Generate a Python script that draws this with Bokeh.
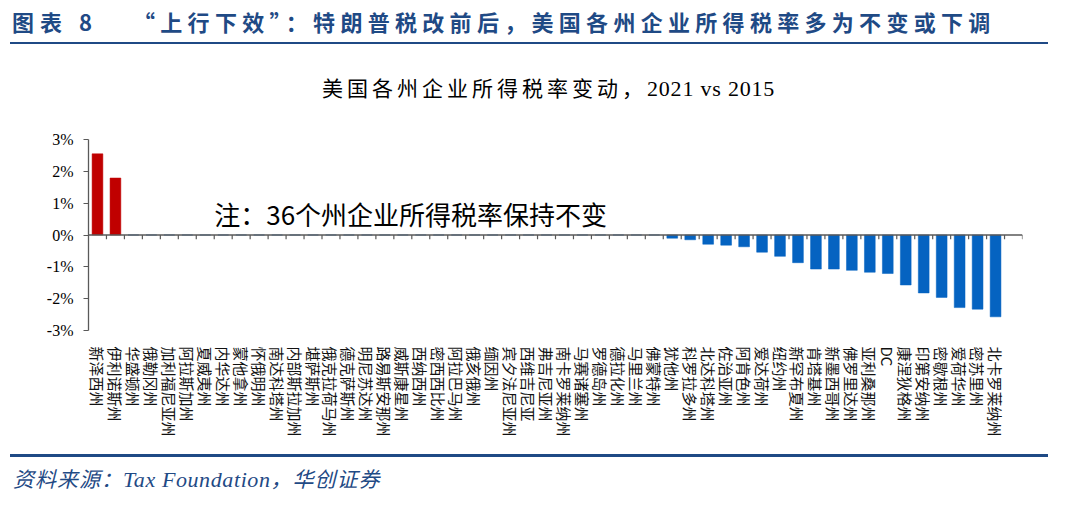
from bokeh.plotting import figure
from bokeh.models import Div, Range1d, FixedTicker, Label, ColumnDataSource, Span, PrintfTickFormatter
from bokeh.layouts import column
from bokeh.embed import file_html
from bokeh.resources import INLINE

# ---------------- data ----------------
states = [
    "新泽西州", "伊利诺斯州", "华盛顿州", "俄勒冈州", "加利福尼亚州", "阿拉斯加州",
    "夏威夷州", "内华达州", "蒙他拿州", "怀俄明州", "南达科塔州", "内部斯拉加州",
    "堪萨斯州", "俄克拉荷马州", "德克萨斯州", "明尼苏达州", "路易斯安那州", "威斯康星州",
    "西纳西州", "密西西比州", "阿拉巴马州", "俄亥俄州", "缅因州", "宾夕法尼亚州",
    "西维吉尼亚", "弗吉尼亚州", "南卡罗莱纳州", "马赛诸塞州", "罗德岛州", "德拉化州",
    "马里兰州", "佛蒙特州", "犹他州", "科罗拉多州", "北达科塔州", "佐治亚州",
    "阿肯色州", "爱达荷州", "纽约州", "新罕布夏州", "肯塔基州", "新墨西哥州",
    "佛罗里达州", "亚利桑那州", "DC", "康涅狄格州", "印第安纳州", "密歇根州",
    "爱荷华州", "密苏里州", "北卡罗莱纳州",
]
# change in corporate income tax rate, percentage points (2021 vs 2015)
changes = [
    2.55, 1.79, 0, 0, 0, 0,
    0, 0, 0, 0, 0, 0,
    0, 0, 0, 0, 0, 0,
    0, 0, 0, 0, 0, 0,
    0, 0, 0, 0, 0, 0,
    0, 0, -0.10, -0.15, -0.29, -0.32,
    -0.37, -0.54, -0.67, -0.87, -1.07, -1.07,
    -1.11, -1.17, -1.21, -1.57, -1.82, -1.96,
    -2.28, -2.33, -2.57,
]
y_ticks = [-3, -2, -1, 0, 1, 2, 3]
n_slots = len(states) + 1  # one empty trailing slot on the category axis

header_left = "图表 8"
header_right = "“上行下效”：特朗普税改前后，美国各州企业所得税率多为不变或下调"
title_cjk = "美国各州企业所得税率变动，"
title_latin = "2021 vs 2015"
note_text = "注：36个州企业所得税率保持不变"
source_cjk1 = "资料来源："
source_latin = "Tax Foundation"
source_cjk2 = "，华创证券"

POS_COLOR = "#C00000"
NEG_COLOR = "#0563C1"
NAVY = "#1F4A85"
AXIS = "#595959"

W = 1072

# ---------------- figure ----------------
xs = [i + 0.5 for i in range(len(states))]
colors = [POS_COLOR if v > 0 else NEG_COLOR for v in changes]
src = ColumnDataSource(dict(x=xs, v=changes, c=colors, name=states))

p = figure(
    width=W, height=342,
    x_range=Range1d(0, n_slots), y_range=Range1d(y_ticks[0], y_ticks[-1]),
    toolbar_location=None, output_backend="svg",
    min_border_left=88, min_border_right=W - 1022, min_border_top=31, min_border_bottom=120,
)
p.outline_line_color = None
p.xgrid.visible = False
p.ygrid.visible = False
p.background_fill_color = "white"
p.border_fill_color = "white"

p.vbar(x="x", top="v", bottom=0, width=0.6, source=src, fill_color="c", line_color="c", line_width=0.5)

# zero line with category-boundary ticks
p.add_layout(Span(location=0, dimension="width", line_color=AXIS, line_width=1.3))
bounds = list(range(1, n_slots + 1))
p.segment(x0=bounds, y0=[0] * len(bounds), x1=bounds, y1=[-0.13] * len(bounds),
          line_color=AXIS, line_width=1.2)

# y axis
p.yaxis.ticker = FixedTicker(ticks=y_ticks)
p.yaxis.formatter = PrintfTickFormatter(format="%d%%")
p.yaxis.axis_line_color = AXIS
p.yaxis.axis_line_width = 1.3
p.yaxis.major_tick_line_color = AXIS
p.yaxis.major_tick_out = 5
p.yaxis.major_tick_in = 0
p.yaxis.minor_tick_line_color = None
p.yaxis.major_label_standoff = 10
p.yaxis.major_label_text_font = "Liberation Serif"
p.yaxis.major_label_text_font_size = "16px"
p.yaxis.major_label_text_color = "black"

# x axis (category labels, vertical)
p.xaxis.ticker = FixedTicker(ticks=xs)
p.xaxis.major_label_overrides = {x: s for x, s in zip(xs, states)}
p.xaxis.axis_line_color = None
p.xaxis.major_tick_line_color = None
p.xaxis.minor_tick_line_color = None
p.xaxis.major_label_orientation = "vertical"
p.xaxis.major_label_standoff = 10
p.xaxis.major_label_text_font = "Noto Sans CJK SC"
p.xaxis.major_label_text_font_size = "15px"
p.xaxis.major_label_text_color = "#111111"

p.add_layout(Label(x=7.0, y=0.68, text=note_text, text_baseline="middle", text_align="left",
                   text_font="Noto Sans CJK SC", text_font_size="26px", text_color="black"))

# ---------------- header / footer ----------------
header_html = f"""
<div style="position:relative;width:{W}px;height:108px;">
 <div style="position:absolute;left:12px;top:8px;font-family:'Noto Sans CJK SC',sans-serif;font-size:22px;line-height:26px;font-weight:bold;color:{NAVY};letter-spacing:6px;white-space:nowrap;">{header_left}</div>
 <div style="position:absolute;left:133px;top:8px;font-family:'Noto Sans CJK SC',sans-serif;font-size:22px;line-height:26px;font-weight:bold;color:{NAVY};letter-spacing:5.3px;white-space:nowrap;">{header_right}</div>
 <div style="position:absolute;left:10px;top:41.5px;width:1038px;height:2.5px;background:{NAVY};"></div>
 <div style="position:absolute;left:322px;top:74px;font-size:21px;line-height:26px;color:#000;white-space:nowrap;"><span style="font-family:'Noto Sans CJK SC',sans-serif;letter-spacing:4px;">{title_cjk}</span><span style="font-family:'Liberation Serif',serif;font-size:22px;letter-spacing:0.8px;">{title_latin}</span></div>
</div>
"""
footer_html = f"""
<div style="position:relative;width:{W}px;height:49px;">
 <div style="position:absolute;left:10px;top:4px;width:1038px;height:2.5px;background:{NAVY};"></div>
 <div style="position:absolute;left:13px;top:15px;font-style:italic;font-size:22px;line-height:26px;color:{NAVY};white-space:nowrap;"><span style="font-family:'Noto Sans CJK SC',sans-serif;font-size:21px;letter-spacing:1px;">{source_cjk1}</span><span style="font-family:'Liberation Serif',serif;letter-spacing:0.6px;">{source_latin}</span><span style="font-family:'Noto Sans CJK SC',sans-serif;font-size:21px;letter-spacing:1px;">{source_cjk2}</span></div>
</div>
"""
header = Div(text=header_html, width=W, height=108, margin=0)
footer = Div(text=footer_html, width=W, height=49, margin=0)

layout = column(header, p, footer, spacing=0, margin=0)

open("out.html", "w").write(file_html(layout, INLINE))
